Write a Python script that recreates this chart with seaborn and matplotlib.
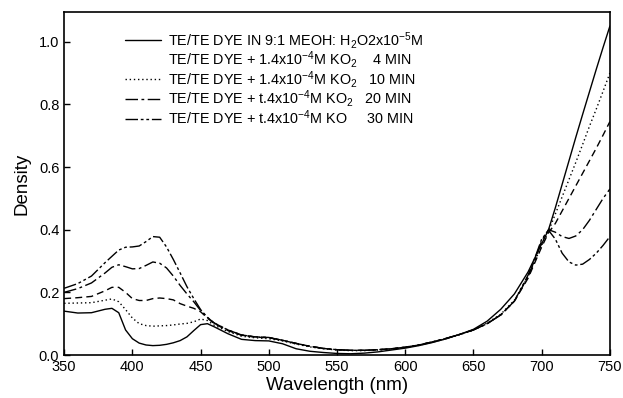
import numpy as np
import pandas as pd
import matplotlib
matplotlib.use("Agg")
import matplotlib.pyplot as plt
import seaborn as sns
from matplotlib.lines import Line2D

wavelength = [350, 360, 370, 380, 385, 390, 395, 400, 405, 410, 415, 420, 425, 430, 435,
              440, 445, 450, 455, 460, 470, 480, 490, 500, 510, 520, 530, 540, 550, 560,
              570, 580, 590, 600, 610, 620, 630, 640, 650, 660, 670, 680, 690, 695, 700,
              705, 710, 715, 720, 725, 730, 735, 740, 745, 750]

dye_methanol = [0.140, 0.134, 0.135, 0.146, 0.149, 0.135, 0.080, 0.052, 0.038, 0.032, 0.030,
                0.031, 0.034, 0.039, 0.046, 0.058, 0.078, 0.097, 0.100, 0.090, 0.068, 0.050,
                0.046, 0.045, 0.036, 0.020, 0.012, 0.008, 0.005, 0.004, 0.006, 0.010, 0.016,
                0.022, 0.030, 0.040, 0.052, 0.066, 0.082, 0.108, 0.146, 0.195, 0.265, 0.310,
                0.355, 0.400, 0.470, 0.545, 0.620, 0.695, 0.768, 0.840, 0.912, 0.982, 1.050]

ko2_4min = [0.180, 0.183, 0.187, 0.205, 0.216, 0.216, 0.200, 0.180, 0.174, 0.174, 0.180,
            0.182, 0.180, 0.176, 0.164, 0.156, 0.149, 0.138, 0.118, 0.100, 0.078, 0.063,
            0.057, 0.055, 0.047, 0.037, 0.028, 0.021, 0.017, 0.015, 0.015, 0.017, 0.020,
            0.025, 0.032, 0.042, 0.053, 0.066, 0.080, 0.100, 0.128, 0.172, 0.245, 0.295,
            0.345, 0.390, 0.420, 0.460, 0.500, 0.540, 0.580, 0.620, 0.660, 0.702, 0.745]

ko2_10min = [0.165, 0.166, 0.167, 0.175, 0.179, 0.170, 0.145, 0.118, 0.100, 0.094, 0.092,
             0.093, 0.094, 0.096, 0.099, 0.101, 0.106, 0.115, 0.110, 0.095, 0.075, 0.060,
             0.055, 0.052, 0.045, 0.035, 0.026, 0.020, 0.016, 0.014, 0.014, 0.016, 0.019,
             0.024, 0.031, 0.041, 0.052, 0.065, 0.080, 0.102, 0.130, 0.175, 0.250, 0.300,
             0.350, 0.395, 0.450, 0.505, 0.560, 0.615, 0.672, 0.730, 0.785, 0.842, 0.900]

ko2_20min = [0.200, 0.212, 0.230, 0.262, 0.280, 0.288, 0.282, 0.275, 0.276, 0.286, 0.297,
             0.293, 0.278, 0.252, 0.222, 0.195, 0.170, 0.142, 0.120, 0.102, 0.080, 0.064,
             0.058, 0.056, 0.047, 0.037, 0.028, 0.021, 0.017, 0.015, 0.015, 0.017, 0.020,
             0.025, 0.032, 0.042, 0.053, 0.066, 0.080, 0.100, 0.128, 0.172, 0.250, 0.305,
             0.365, 0.400, 0.392, 0.378, 0.372, 0.380, 0.400, 0.430, 0.465, 0.500, 0.530]

ko2_30min = [0.213, 0.228, 0.252, 0.295, 0.315, 0.335, 0.344, 0.345, 0.348, 0.362, 0.378,
             0.376, 0.345, 0.305, 0.262, 0.218, 0.180, 0.145, 0.120, 0.102, 0.080, 0.064,
             0.058, 0.056, 0.047, 0.037, 0.028, 0.021, 0.017, 0.015, 0.015, 0.017, 0.020,
             0.025, 0.032, 0.042, 0.053, 0.066, 0.080, 0.100, 0.128, 0.172, 0.255, 0.310,
             0.370, 0.398, 0.370, 0.325, 0.297, 0.287, 0.290, 0.305, 0.325, 0.350, 0.378]

labels = [
    r"TE/TE DYE IN 9:1 MEOH: H$_2$O2x10$^{-5}$M",
    r"TE/TE DYE + 1.4x10$^{-4}$M KO$_2$    4 MIN",
    r"TE/TE DYE + 1.4x10$^{-4}$M KO$_2$   10 MIN",
    r"TE/TE DYE + t.4x10$^{-4}$M KO$_2$   20 MIN",
    r"TE/TE DYE + t.4x10$^{-4}$M KO     30 MIN",
]

x_ticks = [350, 400, 450, 500, 550, 600, 650, 700, 750]
y_ticks = [0.0, 0.2, 0.4, 0.6, 0.8, 1.0]

sns.set_theme(style="ticks")
plt.rcParams["font.family"] = ["Liberation Sans", "DejaVu Sans"]
plt.rcParams["text.color"] = "black"
plt.rcParams["axes.labelcolor"] = "black"
plt.rcParams["mathtext.fontset"] = "custom"
plt.rcParams["mathtext.rm"] = "Liberation Sans"
plt.rcParams["mathtext.it"] = "Liberation Sans:italic"
plt.rcParams["mathtext.bf"] = "Liberation Sans:bold"

fig = plt.figure(figsize=(6.23, 3.98), dpi=100)
ax = fig.add_axes([0.103, 0.108, 0.876, 0.862])

series = [dye_methanol, ko2_4min, ko2_10min, ko2_20min, ko2_30min]
styles = ["-", (0, (5, 3)), (0, (1, 2)), (0, (9, 2.5, 2, 2.5)), (0, (9, 2, 2, 2, 2, 2))]

handles = []
for vals, ls, lab in zip(series, styles, labels):
    df = pd.DataFrame({"Wavelength": wavelength, "Density": vals})
    sns.lineplot(data=df, x="Wavelength", y="Density", ax=ax, color="black",
                 linewidth=1.0, linestyle=ls)
    handles.append(Line2D([0], [0], color="black", linewidth=1.0, linestyle=ls))

# reference legend shows no sample for the 4 MIN entry
handles[1] = Line2D([0], [0], color="none", linewidth=1.0)

ax.set_xlim(350, 750)
ax.set_ylim(0, 1.095)
ax.set_xticks(x_ticks)
ax.set_yticks(y_ticks)
ax.set_xticklabels([str(v) for v in x_ticks])
ax.set_yticklabels([f"{v:.1f}" for v in y_ticks])
ax.tick_params(direction="in", length=4, width=1, labelsize=10.5, colors="black")
for sp in ax.spines.values():
    sp.set_visible(True)
    sp.set_linewidth(1.2)
    sp.set_color("black")

ax.set_xlabel("Wavelength (nm)", fontsize=13.5, labelpad=2)
ax.set_ylabel("Density", fontsize=13.5, labelpad=6)

leg = ax.legend(handles, labels, loc="upper left", bbox_to_anchor=(0.112, 0.948),
                frameon=False, fontsize=10.4, handlelength=2.5, handletextpad=0.45,
                labelspacing=-0.1, borderpad=0, borderaxespad=0)
for t in leg.get_texts():
    t.set_color("black")

fig.savefig("out.png", dpi=100)
